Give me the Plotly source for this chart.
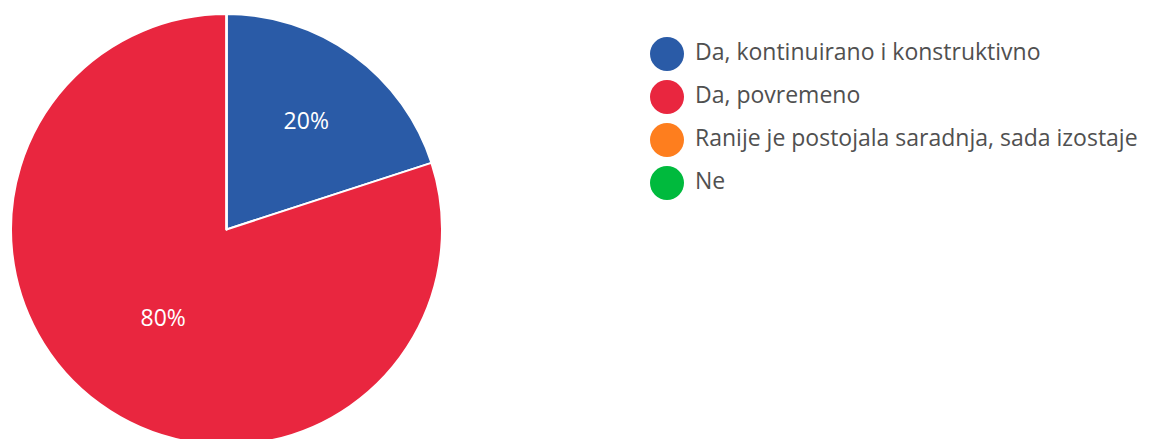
import plotly.graph_objects as go

categories = ["Da, kontinuirano i konstruktivno", "Da, povremeno",
              "Ranije je postojala saradnja, sada izostaje", "Ne"]
values = [20, 80, 0, 0]
colors = ["#2A5BA7", "#E9263F", "#FE7E1E", "#00BA3D"]

# page body has an 8px margin; paper px = page px - 8
W, H = 1137, 440
fig = go.Figure()

fig.add_trace(go.Pie(
    labels=categories, values=values, sort=False, direction="clockwise",
    marker=dict(colors=colors, line=dict(color="white", width=2)),
    texttemplate=["%{percent:.0%}" if v > 0 else "" for v in values],
    textposition="inside",
    textfont=dict(family="Open Sans", size=23, color="white"),
    insidetextorientation="horizontal",
    showlegend=False, hoverinfo="label+percent",
    domain=dict(x=[3 / W, 434 / W], y=[1 - 437 / H, 1 - 6 / H]),
))

idx = list(range(len(categories)))
fig.add_trace(go.Scatter(
    x=[0] * len(categories), y=idx, mode="markers",
    marker=dict(size=34, color=colors), cliponaxis=False,
    xaxis="x", yaxis="y", showlegend=False, hoverinfo="skip",
))
fig.add_trace(go.Scatter(
    x=[1] * len(categories), y=idx, mode="text", text=categories,
    textposition="middle right", cliponaxis=False,
    textfont=dict(family="Open Sans", size=23, color="#505050"),
    xaxis="x", yaxis="y", showlegend=False, hoverinfo="skip",
))

x0px = W / 2
cx, tx = 659, 687          # legend circle centre / text start (paper px)
row0, rowstep = 46, 43     # legend first row centre / spacing (paper px)
fig.update_layout(
    width=W, height=H,
    margin=dict(l=0, r=0, t=0, b=0, pad=0, autoexpand=False),
    paper_bgcolor="white", plot_bgcolor="white",
    xaxis=dict(domain=[0.5, 1],
               range=[(x0px - cx) / (tx - cx), (W - cx) / (tx - cx)],
               visible=False, fixedrange=True),
    yaxis=dict(domain=[1 - (row0 + 3.5 * rowstep) / H,
                       1 - (row0 - 0.5 * rowstep) / H],
               range=[3.5, -0.5], visible=False, fixedrange=True),
)

fig.write_html("out.html")
